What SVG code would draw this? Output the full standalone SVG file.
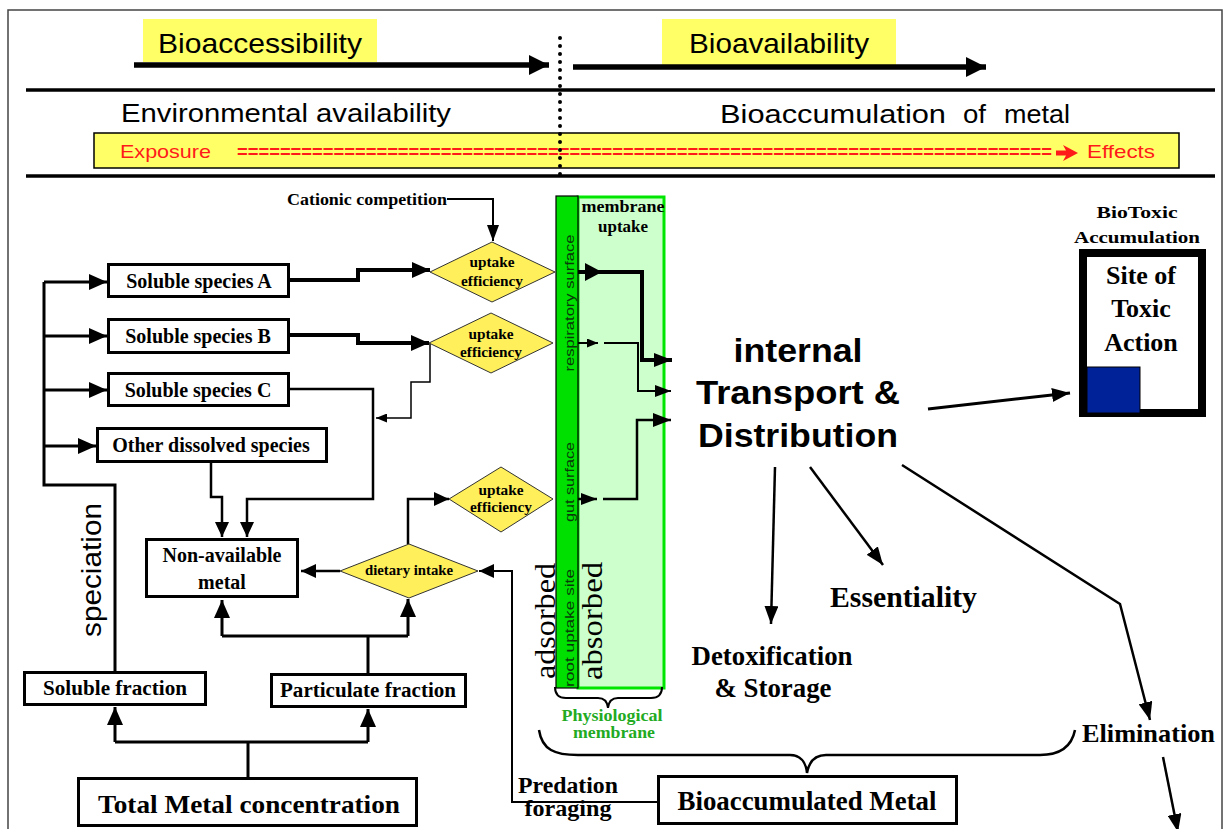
<svg xmlns="http://www.w3.org/2000/svg" width="1231" height="829" viewBox="0 0 1231 829">
<defs>
<style>
.sans{font-family:"Liberation Sans",Arial,sans-serif}
.serif{font-family:"Liberation Serif","Times New Roman",serif}
.box{fill:#fff;stroke:#000;stroke-width:3}
.bl{font-family:"Liberation Serif","Times New Roman",serif;font-weight:bold;font-size:20px;text-anchor:middle;fill:#000}
.dia{fill:#ffef5a;stroke:#333;stroke-width:1}
.dt{font-family:"Liberation Serif","Times New Roman",serif;font-weight:bold;font-size:14px;text-anchor:middle;fill:#000}
.w4{fill:none;stroke:#000;stroke-width:4}
.w3{fill:none;stroke:#000;stroke-width:3}
.w25{fill:none;stroke:#000;stroke-width:2.5}
.w2{fill:none;stroke:#000;stroke-width:2}
.w15{fill:none;stroke:#000;stroke-width:1.5}
.yel{fill:#ffff66}
.red{font-family:"Liberation Sans",Arial,sans-serif;font-size:19px;fill:#ff1a1a}
.strip{font-family:"Liberation Sans",Arial,sans-serif;font-size:13px;fill:#0a3a0a;text-anchor:middle}
.big{font-family:"Liberation Serif","Times New Roman",serif;font-weight:bold;fill:#000}
</style>
<marker id="at" markerUnits="userSpaceOnUse" markerWidth="20" markerHeight="20" viewBox="0 0 20 20" refX="20" refY="10" orient="auto"><path d="M0,0 L20,10 L0,20 z" fill="#000"/></marker>
<marker id="ab" markerUnits="userSpaceOnUse" markerWidth="18" markerHeight="16" viewBox="0 0 18 16" refX="18" refY="8" orient="auto"><path d="M0,0 L18,8 L0,16 z" fill="#000"/></marker>
<marker id="ah" markerUnits="userSpaceOnUse" markerWidth="15" markerHeight="14" viewBox="0 0 15 14" refX="15" refY="7" orient="auto"><path d="M0,0 L15,7 L0,14 z" fill="#000"/></marker>
<marker id="al" markerUnits="userSpaceOnUse" markerWidth="18" markerHeight="14" viewBox="0 0 18 14" refX="18" refY="7" orient="auto"><path d="M0,0 L18,7 L0,14 z" fill="#000"/></marker>
<marker id="am" markerUnits="userSpaceOnUse" markerWidth="16" markerHeight="12" viewBox="0 0 16 12" refX="16" refY="6" orient="auto"><path d="M0,0 L16,6 L0,12 z" fill="#000"/></marker>
<marker id="as" markerUnits="userSpaceOnUse" markerWidth="11" markerHeight="9" viewBox="0 0 11 9" refX="11" refY="4.5" orient="auto"><path d="M0,0 L11,4.5 L0,9 z" fill="#000"/></marker>
</defs>

<rect x="0" y="0" width="1231" height="829" fill="#fff"/>

<g id="frame">
<rect x="8" y="10" width="1214" height="840" fill="none" stroke="#444" stroke-width="1.5"/>
<line x1="26" y1="90" x2="1215" y2="90" stroke="#000" stroke-width="3.5"/>
<line x1="26" y1="176" x2="1215" y2="176" stroke="#000" stroke-width="3.5"/>
</g>

<g id="n-bioaccessibility">
<rect class="yel" x="143" y="19" width="234" height="43"/>
<text class="sans" x="158" y="53" font-size="28" textLength="204" lengthAdjust="spacingAndGlyphs">Bioaccessibility</text>
</g>
<g id="n-bioavailability">
<rect class="yel" x="662" y="19" width="234" height="46"/>
<text class="sans" x="689" y="53" font-size="28" textLength="180" lengthAdjust="spacingAndGlyphs">Bioavailability</text>
</g>

<g id="n-environmental">
<text class="sans" x="121" y="122" font-size="26" textLength="330" lengthAdjust="spacingAndGlyphs">Environmental availability</text>
</g>
<g id="n-bioaccumulation-of-metal">
<text class="sans" x="720" y="123" font-size="26" textLength="226" lengthAdjust="spacingAndGlyphs">Bioaccumulation</text>
<text class="sans" x="963" y="123" font-size="26" textLength="23" lengthAdjust="spacingAndGlyphs">of</text>
<text class="sans" x="1004" y="123" font-size="26" textLength="66" lengthAdjust="spacingAndGlyphs">metal</text>
</g>

<g id="n-exposure-bar">
<rect x="94" y="133" width="1085" height="35" fill="#ffff66" stroke="#000" stroke-width="1.5"/>
<text class="red" x="120" y="158" textLength="91" lengthAdjust="spacingAndGlyphs">Exposure</text>
<text class="red" x="237" y="158" font-size="18" font-weight="bold" textLength="815" lengthAdjust="spacingAndGlyphs">============================================================================</text>
<path d="M1056,150.5 H1066 L1063,145 L1078,153 L1063,161 L1066,155.5 H1056 z" fill="#ff1a1a"/>
<text class="red" x="1087" y="158" textLength="68" lengthAdjust="spacingAndGlyphs">Effects</text>
</g>

<g id="connectors">
<line x1="134" y1="65" x2="549" y2="65" stroke="#000" stroke-width="5.5" marker-end="url(#at)"/>
<line x1="573" y1="67" x2="986" y2="67" stroke="#000" stroke-width="5.5" marker-end="url(#at)"/>
<line x1="560" y1="38" x2="560" y2="181" stroke="#000" stroke-width="4" stroke-linecap="round" stroke-dasharray="0 8"/>

<path class="w3" d="M115,671 V485 H44 V282"/>
<path class="w3" d="M44,282 H107" marker-end="url(#ab)"/>
<path class="w3" d="M44,336 H107" marker-end="url(#ab)"/>
<path class="w3" d="M44,390 H107" marker-end="url(#ab)"/>
<path class="w3" d="M44,446 H96" marker-end="url(#ab)"/>

<path class="w4" d="M290,280 H358 V270 H430" marker-end="url(#ab)"/>
<path class="w4" d="M290,335 H358 V343 H429" marker-end="url(#ab)"/>
<path class="w25" d="M290,389 H373 V499 H247 V537" marker-end="url(#ah)"/>
<path class="w25" d="M211,463 V497 H222 V537" marker-end="url(#ah)"/>
<path class="w15" d="M430,343 V382 H411 V418 H376" marker-end="url(#as)"/>

<path class="w2" d="M447,199 H493 V241" marker-end="url(#am)"/>

<path class="w25" d="M340,571 H301" marker-end="url(#ah)"/>
<path class="w25" d="M408,544 V499 H449" marker-end="url(#ah)"/>
<path class="w2" d="M657,802 H512 V571 H479" marker-end="url(#ah)"/>

<path class="w3" d="M368,673 V636"/>
<path class="w3" d="M222,636 H408"/>
<path class="w3" d="M222,636 V600" marker-end="url(#ab)"/>
<path class="w3" d="M408,636 V599" marker-end="url(#ab)"/>
<path class="w3" d="M248,777 V742"/>
<path class="w3" d="M115,742 H368"/>
<path class="w3" d="M115,742 V707" marker-end="url(#ab)"/>
<path class="w3" d="M368,742 V709" marker-end="url(#ab)"/>
</g>

<g id="n-membrane">
<rect x="578" y="197" width="86" height="491" fill="#ccffcc" stroke="#00e600" stroke-width="3"/>
<rect x="556" y="196" width="22" height="492" fill="#00e000" stroke="#000" stroke-width="1.2"/>
<text class="strip" transform="translate(574,303) rotate(-90)" textLength="137" lengthAdjust="spacingAndGlyphs">respiratory surface</text>
<text class="strip" transform="translate(574,482) rotate(-90)" textLength="80" lengthAdjust="spacingAndGlyphs">gut surface</text>
<text class="strip" transform="translate(574,628) rotate(-90)" textLength="118" lengthAdjust="spacingAndGlyphs">root uptake site</text>
<text class="serif" transform="translate(602,621) rotate(-90)" font-size="30" text-anchor="middle" textLength="118" lengthAdjust="spacingAndGlyphs">absorbed</text>
<text class="big" x="623" y="212" font-size="17" text-anchor="middle" textLength="83" lengthAdjust="spacingAndGlyphs">membrane</text>
<text class="big" x="623" y="232" font-size="17" text-anchor="middle" textLength="50" lengthAdjust="spacingAndGlyphs">uptake</text>
<path class="w2" d="M555,687 Q555,698 566,698 L598,698 Q607,698 608,708 Q609,698 618,698 L651,698 Q662,698 662,687"/>
<text class="big" x="612" y="721" font-size="17" text-anchor="middle" textLength="101" lengthAdjust="spacingAndGlyphs" style="fill:#22aa22">Physiological</text>
<text class="big" x="614" y="738" font-size="17" text-anchor="middle" textLength="82" lengthAdjust="spacingAndGlyphs" style="fill:#22aa22">membrane</text>
</g>

<g id="n-adsorbed">
<text class="serif" transform="translate(555,621) rotate(-90)" font-size="29" text-anchor="middle" textLength="116" lengthAdjust="spacingAndGlyphs">adsorbed</text>
</g>

<g id="membrane-connectors">
<path class="w4" d="M578,272 H642 V360 H672" marker-end="url(#al)"/>
<path d="M585,263 L602,272 L585,281 z" fill="#000"/>
<path class="w2" d="M578,343 H598" marker-end="url(#as)"/>
<path class="w2" d="M604,343 H638 V391 H671" marker-end="url(#am)"/>
<path class="w25" d="M578,499 H597" marker-end="url(#am)"/>
<path class="w25" d="M603,499 H637 V420 H671" marker-end="url(#al)"/>
</g>

<g id="n-cationic">
<text class="big" x="287" y="205" font-size="17" textLength="160" lengthAdjust="spacingAndGlyphs">Cationic competition</text>
</g>

<g id="n-uptake1">
<polygon class="dia" points="430,272 492,242 555,272 492,302"/>
<text class="dt" x="492" y="267" textLength="45" lengthAdjust="spacingAndGlyphs">uptake</text>
<text class="dt" x="492" y="286" textLength="62" lengthAdjust="spacingAndGlyphs">efficiency</text>
</g>
<g id="n-uptake2">
<polygon class="dia" points="429,343 491,313 553,343 491,373"/>
<text class="dt" x="491" y="339" textLength="45" lengthAdjust="spacingAndGlyphs">uptake</text>
<text class="dt" x="491" y="357" textLength="62" lengthAdjust="spacingAndGlyphs">efficiency</text>
</g>
<g id="n-uptake3">
<polygon class="dia" points="449,499 501,467 553,499 501,532"/>
<text class="dt" x="501" y="495" textLength="45" lengthAdjust="spacingAndGlyphs">uptake</text>
<text class="dt" x="501" y="512" textLength="62" lengthAdjust="spacingAndGlyphs">efficiency</text>
</g>
<g id="n-dietary">
<polygon class="dia" points="340,571 409,544 478,571 409,598"/>
<text class="dt" x="409" y="575" textLength="88" lengthAdjust="spacingAndGlyphs">dietary intake</text>
</g>

<g id="n-speciesA">
<rect class="box" x="108.5" y="264.5" width="180" height="32"/>
<text class="bl" x="199" y="288">Soluble species A</text>
</g>
<g id="n-speciesB">
<rect class="box" x="108.5" y="319.5" width="180" height="33"/>
<text class="bl" x="198" y="343">Soluble species B</text>
</g>
<g id="n-speciesC">
<rect class="box" x="108.5" y="373.5" width="180" height="32"/>
<text class="bl" x="198" y="397">Soluble species C</text>
</g>
<g id="n-other">
<rect class="box" x="97.5" y="428.5" width="229" height="33"/>
<text class="bl" x="211" y="452">Other dissolved species</text>
</g>
<g id="n-nonavailable">
<rect class="box" x="146.5" y="539.5" width="151" height="57"/>
<text class="bl" x="222" y="562">Non-available</text>
<text class="bl" x="222" y="589">metal</text>
</g>
<g id="n-speciation">
<text class="sans" transform="translate(101,570) rotate(-90)" font-size="27" text-anchor="middle" textLength="134" lengthAdjust="spacingAndGlyphs">speciation</text>
</g>
<g id="n-soluble-fraction">
<rect class="box" x="24.5" y="672.5" width="181" height="32"/>
<text class="bl" x="115" y="695" textLength="144" lengthAdjust="spacingAndGlyphs">Soluble fraction</text>
</g>
<g id="n-particulate-fraction">
<rect class="box" x="271.5" y="674.5" width="194" height="32"/>
<text class="bl" x="368" y="697" textLength="176" lengthAdjust="spacingAndGlyphs">Particulate fraction</text>
</g>
<g id="n-total">
<rect class="box" x="78.5" y="778.5" width="338" height="47"/>
<text class="bl" x="249" y="813" style="font-size:25px" textLength="302" lengthAdjust="spacingAndGlyphs">Total Metal concentration</text>
</g>
<g id="n-predation">
<text class="bl" x="568" y="793" style="font-size:23px" textLength="100" lengthAdjust="spacingAndGlyphs">Predation</text>
<text class="bl" x="568" y="816" style="font-size:23px" textLength="87" lengthAdjust="spacingAndGlyphs">foraging</text>
</g>
<g id="n-bioaccumulated">
<rect class="box" x="658.5" y="776.5" width="298" height="47"/>
<text class="bl" x="807" y="810" style="font-size:27px" textLength="259" lengthAdjust="spacingAndGlyphs">Bioaccumulated Metal</text>
</g>
<g id="brace">
<path class="w25" d="M539,730 C542,750 555,755 578,755 L790,755 C800,755 806,762 807,773 C809,762 815,755 826,755 L1040,755 C1062,755 1072,745 1075,730"/>
</g>

<g id="n-transport">
<text class="sans" x="798" y="362" font-size="34" font-weight="bold" text-anchor="middle" textLength="129" lengthAdjust="spacingAndGlyphs">internal</text>
<text class="sans" x="798" y="404" font-size="34" font-weight="bold" text-anchor="middle" textLength="204" lengthAdjust="spacingAndGlyphs">Transport &amp;</text>
<text class="sans" x="798" y="447" font-size="34" font-weight="bold" text-anchor="middle" textLength="200" lengthAdjust="spacingAndGlyphs">Distribution</text>
</g>

<g id="n-site">
<text class="big" x="1137" y="218" font-size="17" text-anchor="middle" textLength="81" lengthAdjust="spacingAndGlyphs">BioToxic</text>
<text class="big" x="1137" y="243" font-size="17" text-anchor="middle" textLength="126" lengthAdjust="spacingAndGlyphs">Accumulation</text>
<rect x="1083" y="253" width="119" height="160" fill="#fff" stroke="#000" stroke-width="8"/>
<rect x="1087" y="367" width="53" height="46" fill="#002299" stroke="#000" stroke-width="1"/>
<text class="big" x="1141" y="284" font-size="26" text-anchor="middle">Site of</text>
<text class="big" x="1141" y="317" font-size="26" text-anchor="middle">Toxic</text>
<text class="big" x="1141" y="351" font-size="26" text-anchor="middle">Action</text>
</g>

<g id="n-essentiality">
<text class="big" x="830" y="607" font-size="30" textLength="147" lengthAdjust="spacingAndGlyphs">Essentiality</text>
</g>
<g id="n-detox">
<text class="big" x="772" y="665" font-size="27" text-anchor="middle" textLength="161" lengthAdjust="spacingAndGlyphs">Detoxification</text>
<text class="big" x="773" y="697" font-size="27" text-anchor="middle" textLength="117" lengthAdjust="spacingAndGlyphs">&amp; Storage</text>
</g>
<g id="n-elimination">
<text class="big" x="1082" y="742" font-size="26" textLength="133" lengthAdjust="spacingAndGlyphs">Elimination</text>
</g>

<g id="transport-connectors">
<path class="w3" d="M928,409 L1070,393" marker-end="url(#al)"/>
<path class="w25" d="M775,467 L771,624" marker-end="url(#al)"/>
<path class="w25" d="M810,467 L883,565" marker-end="url(#al)"/>
<path class="w25" d="M902,465 L1120,604 L1150,720" marker-end="url(#al)"/>
<path class="w25" d="M1163,757 L1178,832" marker-end="url(#al)"/>
</g>
</svg>
